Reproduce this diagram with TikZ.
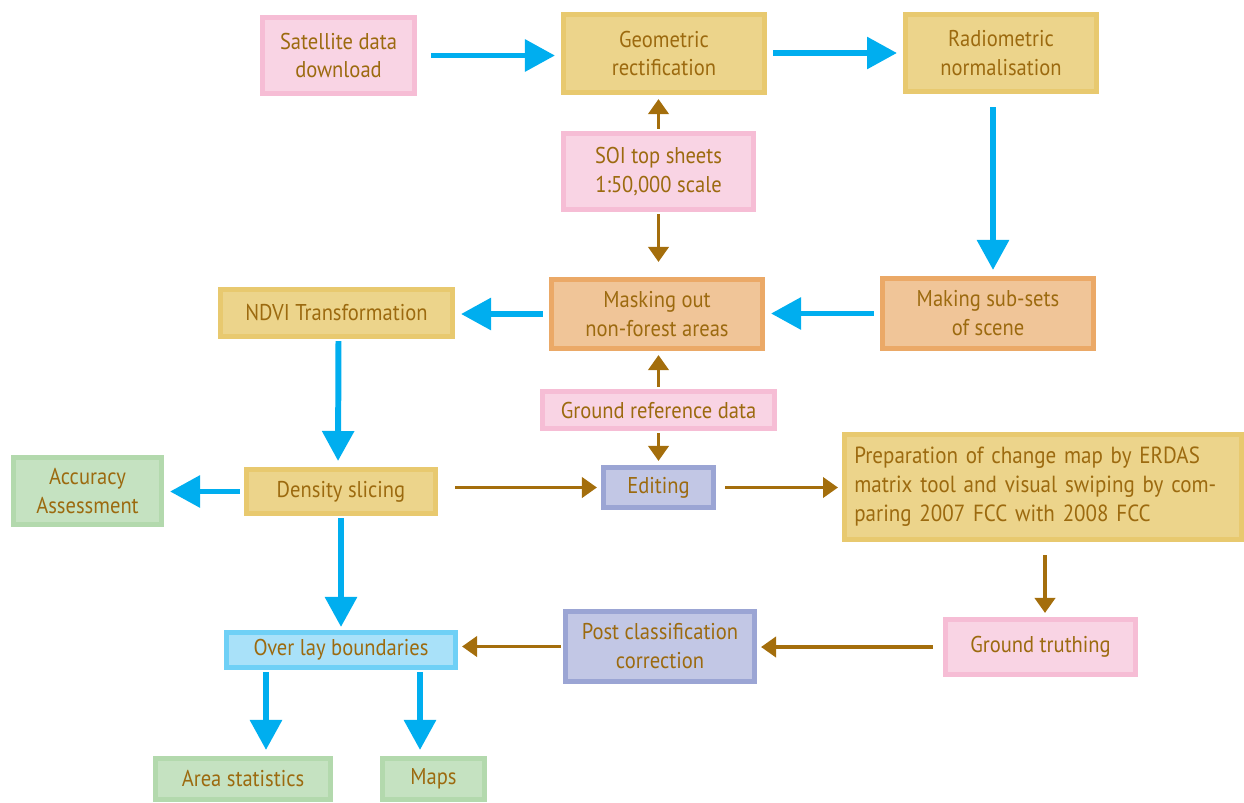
\documentclass[tikz,border=0pt]{standalone}
\usepackage{fontspec}
\setmainfont{PT Sans}[FakeStretch=0.9]
\usetikzlibrary{arrows.meta,calc}
\definecolor{txtbrown}{HTML}{9C6A0F}
\definecolor{arrowbrown}{HTML}{A46E0C}
\definecolor{arrowblue}{HTML}{00AEEF}
\definecolor{pinkfill}{HTML}{F9D4E4}
\definecolor{pinkline}{HTML}{F6BDD5}
\definecolor{yellowfill}{HTML}{ECD48B}
\definecolor{yellowline}{HTML}{E8C96F}
\definecolor{orangefill}{HTML}{F0C598}
\definecolor{orangeline}{HTML}{EBA967}
\definecolor{greenfill}{HTML}{C5E2C1}
\definecolor{greenline}{HTML}{B3D9AD}
\definecolor{lavfill}{HTML}{C2C7E5}
\definecolor{lavline}{HTML}{9BA5D4}
\definecolor{skyfill}{HTML}{A9E1F9}
\definecolor{skyline}{HTML}{6FD0F6}
\tikzset{
	box/.style={draw, line width=2.6pt, text=txtbrown, align=center, inner sep=2pt,
		font=\fontsize{13}{16.5}\selectfont},
	pinkbox/.style={box, draw=pinkline, fill=pinkfill},
	yellowbox/.style={box, draw=yellowline, fill=yellowfill},
	orangebox/.style={box, draw=orangeline, fill=orangefill},
	greenbox/.style={box, draw=greenline, fill=greenfill},
	lavbox/.style={box, draw=lavline, fill=lavfill},
	skybox/.style={box, draw=skyline, fill=skyfill},
	bluearrow/.style={draw=arrowblue, line width=3.4pt, -{Triangle[length=0.6cm,width=0.62cm]},
		shorten <=0.12cm, shorten >=0.12cm},
	brownarrow/.style={draw=arrowbrown, line width=2.2pt, -{Triangle[length=0.3cm,width=0.4cm]},
		shorten <=0.04cm, shorten >=0.08cm}
}

\begin{document}
\begin{tikzpicture}[x=0.02cm, y=-0.02cm]
		%%%%% START %%%%%
		\useasboundingbox (0, 0) rectangle (1244, 802);
		
		% top row
		\node[pinkbox, minimum width=3.05cm, minimum height=1.53cm] (sat) at (338.5, 55.5) {Satellite data\\download};
		\node[yellowbox, minimum width=4.03cm, minimum height=1.57cm] (geo) at (664, 53.5) {Geometric\\rectification};
		\node[yellowbox, minimum width=3.83cm, minimum height=1.55cm] (rad) at (1001, 53) {Radiometric\\normalisation};
		\node[pinkbox, minimum width=3.81cm, minimum height=1.53cm] (soi) at (658.5, 171.5) {SOI top sheets\\1:50,000 scale};
		
		% masking row
		\node[yellowbox, minimum width=4.65cm, minimum height=0.95cm] (ndvi) at (336.5, 313) {NDVI Transformation};
		\node[orangebox, minimum width=4.23cm, minimum height=1.39cm] (mask) at (657, 314) {Masking out\\non-forest areas};
		\node[orangebox, minimum width=4.23cm, minimum height=1.41cm] (subset) at (988, 313.5) {Making sub-sets\\of scene};
		\node[pinkbox, minimum width=4.65cm, minimum height=0.75cm] (gref) at (658.5, 410) {Ground reference data};
		
		% slicing row
		\node[greenbox, minimum width=2.97cm, minimum height=1.35cm] (acc) at (87.5, 491) {Accuracy\\Assessment};
		\node[yellowbox, minimum width=3.79cm, minimum height=0.89cm] (dens) at (341, 491.5) {Density slicing};
		\node[lavbox, minimum width=2.21cm, minimum height=0.81cm] (edit) at (658.5, 487.5) {Editing};
		\node[yellowbox, minimum width=7.95cm, minimum height=2.11cm, text width=7.55cm, align=left,
			font=\fontsize{13.3}{16.5}\selectfont] (prep) at (1043, 487)
			{Preparation of change map by ERDAS\\matrix tool and visual swiping by com-\\paring 2007 FCC with 2008 FCC};
		
		% bottom rows
		\node[skybox, minimum width=4.59cm, minimum height=0.71cm] (overlay) at (341, 650) {Over lay boundaries};
		\node[lavbox, minimum width=3.79cm, minimum height=1.41cm] (post) at (660, 646.5) {Post classification\\correction};
		\node[pinkbox, minimum width=3.81cm, minimum height=1.11cm] (truth) at (1040.5, 647) {Ground truthing};
		\node[greenbox, minimum width=3.51cm, minimum height=0.83cm] (area) at (243, 779) {Area statistics};
		\node[greenbox, minimum width=2.05cm, minimum height=0.83cm] (maps) at (433.5, 779) {Maps};
		\coordinate (toarea) at ($(overlay.south)+(-75,0)$);
		\coordinate (tomaps) at ($(overlay.south)+(79,0)$);
		
		% blue flow
		\draw[bluearrow, shorten <=0.28cm] (sat.east) -- (sat.east -| geo.west);
		\draw[bluearrow] (rad.west -| geo.east) -- (rad.west);
		\draw[bluearrow, shorten <=0.26cm] ($(rad.south)+(-8,0)$) -- ($(subset.north)+(5,0)$);
		\draw[bluearrow] (subset.west) -- (subset.west -| mask.east);
		\draw[bluearrow] (mask.west) -- (mask.west -| ndvi.east);
		\draw[bluearrow, shorten <=0.04cm] ($(ndvi.south)+(2,0)$) -- ($(dens.north)+(-3,0)$);
		\draw[bluearrow, shorten <=0.08cm] (dens.west) -- (dens.west -| acc.east);
		\draw[bluearrow, shorten <=0.04cm, shorten >=0.06cm] (dens.south) -- (overlay.north);
		\draw[bluearrow, shorten <=0.04cm] (toarea) -- (toarea |- area.north);
		\draw[bluearrow, shorten <=0.04cm] (tomaps) -- (tomaps |- maps.north);
		
		% brown flow
		\draw[brownarrow] (soi.north) -- (soi.north |- geo.south);
		\draw[brownarrow, shorten >=0.3cm] (soi.south) -- (soi.south |- mask.north);
		\draw[brownarrow] (gref.north) -- (gref.north |- mask.south);
		\draw[brownarrow] (gref.south) -- (gref.south |- edit.north);
		\draw[brownarrow, shorten <=0.34cm] (edit.west -| dens.east) -- (edit.west);
		\draw[brownarrow, shorten <=0.18cm] (edit.east) -- (edit.east -| prep.west);
		\draw[brownarrow, shorten <=0.26cm] ($(prep.south)+(2,0)$) -- ($(truth.north)+(4.5,0)$);
		\draw[brownarrow, shorten <=0.2cm] (truth.west) -- (truth.west -| post.east);
		\draw[brownarrow] (post.west) -- (post.west -| overlay.east);
		%%%%% END %%%%%
	\end{tikzpicture}
\end{document}
